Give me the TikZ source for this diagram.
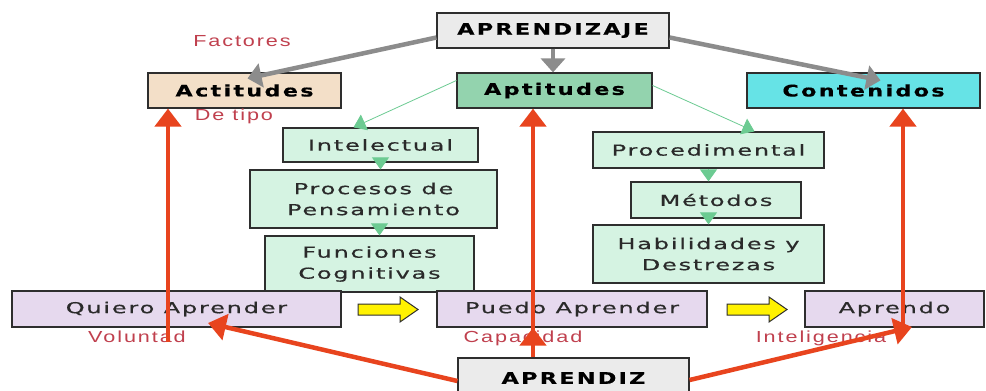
\documentclass[tikz,border=0pt]{standalone}
\usepackage{fontspec}
\usetikzlibrary{arrows.meta}
\newfontfamily\boxfont[FakeStretch=1.6,LetterSpace=12,FakeBold=0.6]{DejaVu Sans}
\newfontfamily\titlefont[FakeStretch=1.4,LetterSpace=14,FakeBold=0.4]{DejaVu Sans Bold}
\newfontfamily\labelfont[FakeStretch=1.35,LetterSpace=12]{Liberation Sans}
\definecolor{boxline}{HTML}{2E2E2E}
\definecolor{txt}{HTML}{2A2A2A}
\definecolor{grayfill}{HTML}{EBEBEB}
\definecolor{peach}{HTML}{F3DFC8}
\definecolor{aptgreen}{HTML}{93D3AE}
\definecolor{cyanfill}{HTML}{66E3E6}
\definecolor{lightgreen}{HTML}{D5F3E2}
\definecolor{lavender}{HTML}{E6D9EE}
\definecolor{redc}{HTML}{E8441E}
\definecolor{grayc}{HTML}{8C8C8C}
\definecolor{greenc}{HTML}{6CCB92}
\definecolor{lblred}{HTML}{C0404E}
\begin{document}
\begin{tikzpicture}[x=1pt,y=-1pt,
  box/.style={draw=boxline, line width=1.2pt, inner sep=0pt, align=center,
    font=\boxfont\fontsize{15}{21}\selectfont, text=txt},
  titlebox/.style={box, font=\titlefont\fontsize{16}{19}\selectfont, text=black},
  lbl/.style={font=\labelfont\fontsize{16}{18}\selectfont, text=lblred, inner sep=0pt},
  redarrow/.style={draw=redc, line width=4.5pt, -{Triangle[width=26pt,length=18pt]}},
  grayarrow/.style={draw=grayc, line width=4.5pt, -{Triangle[width=24pt,length=14pt]}},
  greenarrow/.style={draw=greenc, line width=0.8pt, -{Triangle[width=17pt,length=12pt]}},
  yarrow/.style={draw=boxline, line width=1pt, fill=yellow, line join=miter}]
\useasboundingbox (0,0) rectangle (986,391);
\fill[white] (0,0) rectangle (986,391);

% top level
\node[titlebox, fill=grayfill, minimum width=232pt, minimum height=35pt] (apz) at (553,30.5) {APRENDIZAJE};
\node[titlebox, fill=peach, minimum width=193pt, minimum height=35pt] (act) at (244.5,90.5) {Actitudes};
\node[titlebox, fill=aptgreen, minimum width=195pt, minimum height=35pt] (apt) at (554.5,90.5) {Aptitudes};
\node[titlebox, fill=cyanfill, minimum width=233pt, minimum height=35pt] (con) at (863.5,90.5) {Contenidos};

% aptitudes branches
\node[box, fill=lightgreen, minimum width=195pt, minimum height=34pt] (int) at (380.5,145) {Intelectual};
\node[box, fill=lightgreen, minimum width=247pt, minimum height=58pt] (prc) at (373.5,199) {Procesos de\\Pensamiento};
\node[box, fill=lightgreen, minimum width=209pt, minimum height=56pt] (fun) at (369.5,264) {Funciones\\Cognitivas};
\node[box, fill=lightgreen, minimum width=231pt, minimum height=36pt] (pd) at (708.5,150) {Procedimental};
\node[box, fill=lightgreen, minimum width=170pt, minimum height=36pt] (met) at (716,200) {Métodos};
\node[box, fill=lightgreen, minimum width=231pt, minimum height=58pt] (hab) at (708.5,254) {Habilidades y\\Destrezas};

% bottom row
\node[box, fill=lavender, minimum width=329pt, minimum height=36pt] (qui) at (176.5,309) {Quiero Aprender};
\node[box, fill=lavender, minimum width=270pt, minimum height=36pt] (pue) at (572,309) {Puedo Aprender};
\node[box, fill=lavender, minimum width=179pt, minimum height=36pt] (apd) at (894.5,309) {Aprendo};
\node[titlebox, fill=grayfill, minimum width=231pt, minimum height=40pt, text depth=0pt] (apr) at (573.5,378) {APRENDIZ};

% labels
\node[lbl] (fac) at (242,41) {Factores};
\node[lbl] (tip) at (234,116) {De tipo};
\node[lbl] (vol) at (137,337) {Voluntad};
\node[lbl] (cap) at (523,338) {Capacidad};
\node[lbl] (intg) at (821,338) {Inteligencia};

% yellow block arrows
\coordinate (y1) at (358,309.5);
\coordinate (y2) at (727,309.5);
\foreach \c in {y1,y2}{
  \draw[yarrow] (\c) ++(0,-5.5) -- ++(42,0) -- ++(0,-7) -- ++(18,12.5) -- ++(-18,12.5) -- ++(0,-7) -- ++(-42,0) -- cycle;
}

% gray arrows
\draw[grayarrow] ([yshift=-7pt]apz.west) -- ([xshift=3pt,yshift=-6pt]act.north);
\draw[grayarrow] (apz.south) -- (apz.south |- apt.north);
\draw[grayarrow] ([yshift=-7pt]apz.east) -- ([xshift=17pt,yshift=-8pt]con.north);

% green arrows
\draw[greenarrow] ([yshift=10pt]apt.west) -- ([xshift=-27pt]int.north);
\draw[greenarrow] ([yshift=5pt]apt.east) -- ([xshift=46pt]pd.north);
\draw[greenarrow] (int.south) -- (int.south |- prc.north);
\draw[greenarrow] ([xshift=6pt]prc.south) -- ([xshift=6pt]prc.south |- fun.north);
\draw[greenarrow] (pd.south) -- (pd.south |- met.north);
\draw[greenarrow] (pd.south |- met.south) -- (pd.south |- hab.north);

% red arrows
\coordinate (vl) at (168,342);
\coordinate (mx) at (533,0);
\coordinate (rx) at (903,0);
\coordinate (qt) at (208,323);
\coordinate (at) at (912,327);
\draw[redarrow] (vl) -- (vl |- act.south);
\draw[redarrow] (mx |- apr.north) -- (mx |- apt.south);
\draw[redarrow] (mx |- apr.north) -- (mx |- pue.south);
\draw[redarrow] (rx |- apd.south) -- (rx |- con.south);
\draw[redarrow] ([yshift=-3pt]apr.west) -- (qt);
\draw[redarrow] ([yshift=-2pt]apr.east) -- (at);
\end{tikzpicture}
\end{document}
